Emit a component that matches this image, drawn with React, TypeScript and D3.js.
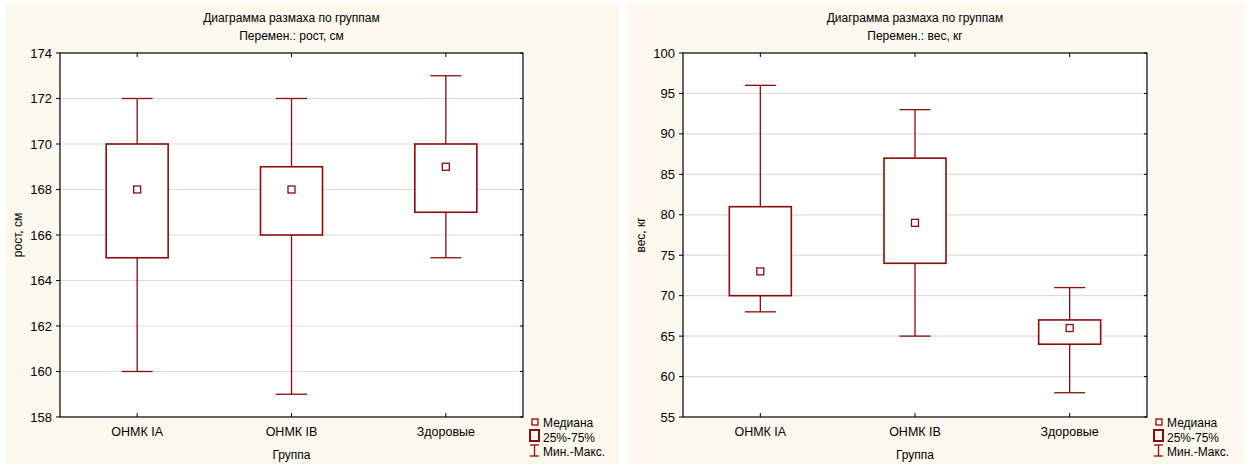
import React from 'react';
import * as d3 from 'd3';

// groups shared by both charts
const groups = ['ОНМК IA', 'ОНМК IB', 'Здоровые'];

// рост, см
const heightMin = [160, 159, 165];
const heightQ1 = [165, 166, 167];
const heightMedian = [168, 168, 169];
const heightQ3 = [170, 169, 170];
const heightMax = [172, 172, 173];
const heightTicks = [158, 160, 162, 164, 166, 168, 170, 172, 174];

// вес, кг
const weightMin = [68, 65, 58];
const weightQ1 = [70, 74, 64];
const weightMedian = [73, 79, 66];
const weightQ3 = [81, 87, 67];
const weightMax = [96, 93, 71];
const weightTicks = [55, 60, 65, 70, 75, 80, 85, 90, 95, 100];

const legendLabels = ['Медиана', '25%-75%', 'Мин.-Макс.'];

const RED = '#8b0a0a';
const FONT = '"Liberation Sans", Arial, sans-serif';

type PanelProps = {
  x0: number;
  width: number;
  plotLeft: number;
  plotRight: number;
  varLabel: string;
  yLabel: string;
  ticks: number[];
  min: number[];
  q1: number[];
  med: number[];
  q3: number[];
  max: number[];
};

const Panel = ({ x0, width, plotLeft, plotRight, varLabel, yLabel, ticks, min, q1, med, q3, max }: PanelProps) => {
  const top = 53;
  const bottom = 417;

  const x = d3.scaleBand().domain(groups).range([plotLeft, plotRight]).padding(0);
  const y = d3.scaleLinear().domain([ticks[0], ticks[ticks.length - 1]]).range([bottom, top]);
  const cx = (g: string) => (x(g) as number) + x.bandwidth() / 2;
  const mid = (plotLeft + plotRight) / 2;
  const boxW = 62;
  const capW = 31;
  const lx = plotRight + 5;

  return (
    <g fontFamily={FONT}>
      <rect x={x0} y={3} width={width} height={461} fill="#fdf8ee" />
      <rect x={plotLeft} y={top} width={plotRight - plotLeft} height={bottom - top} fill="#fff" />

      {/* titles */}
      <text x={mid} y={22} textAnchor="middle" fontSize={12}>Диаграмма размаха по группам</text>
      <text x={mid} y={40} textAnchor="middle" fontSize={12}>{`Перемен.: ${varLabel}`}</text>

      {/* grid + y ticks */}
      {ticks.map((t) => (
        <g key={t}>
          {t !== ticks[0] && t !== ticks[ticks.length - 1] && (
            <line x1={plotLeft} x2={plotRight} y1={y(t)} y2={y(t)} stroke="#dcdcdc" strokeWidth={1.2} />
          )}
          <line x1={plotLeft - 4} x2={plotLeft} y1={y(t)} y2={y(t)} stroke="#000" />
          <line x1={plotRight - 3} x2={plotRight} y1={y(t)} y2={y(t)} stroke="#000" />
          <text x={plotLeft - 8} y={y(t)} dy="0.35em" textAnchor="end" fontSize={13}>{t}</text>
        </g>
      ))}

      {/* x ticks */}
      {groups.map((g) => (
        <g key={g}>
          <line x1={cx(g)} x2={cx(g)} y1={top} y2={top + 4} stroke="#000" />
          <line x1={cx(g)} x2={cx(g)} y1={bottom} y2={bottom - 4} stroke="#000" />
          <text x={cx(g)} y={436} textAnchor="middle" fontSize={12.5}>{g}</text>
        </g>
      ))}

      {/* boxes */}
      {groups.map((g, i) => (
        <g key={g} stroke={RED} fill="none" strokeWidth={1.3}>
          <line x1={cx(g)} x2={cx(g)} y1={y(max[i])} y2={y(q3[i])} />
          <line x1={cx(g)} x2={cx(g)} y1={y(q1[i])} y2={y(min[i])} />
          <line x1={cx(g) - capW / 2} x2={cx(g) + capW / 2} y1={y(max[i])} y2={y(max[i])} />
          <line x1={cx(g) - capW / 2} x2={cx(g) + capW / 2} y1={y(min[i])} y2={y(min[i])} />
          <rect x={cx(g) - boxW / 2} y={y(q3[i])} width={boxW} height={y(q1[i]) - y(q3[i])} fill="#fff" strokeWidth={1.6} />
          <rect x={cx(g) - 3.5} y={y(med[i]) - 3.5} width={7} height={7} fill="#fff" />
        </g>
      ))}

      <rect x={plotLeft} y={top} width={plotRight - plotLeft} height={bottom - top} fill="none" stroke="#000" strokeWidth={1.2} />

      {/* axis titles */}
      <text x={mid} y={459} textAnchor="middle" fontSize={12}>Группа</text>
      <text transform={`translate(${x0 + 17},${(top + bottom) / 2}) rotate(-90)`} textAnchor="middle" fontSize={12}>{yLabel}</text>

      {/* legend */}
      <g stroke={RED} fill="none">
        <rect x={lx + 4} y={419} width={6} height={6} strokeWidth={1.3} />
        <rect x={lx + 2} y={430} width={9} height={11} strokeWidth={2} />
        <line x1={lx + 2} x2={lx + 11} y1={445} y2={445} strokeWidth={1.3} />
        <line x1={lx + 6.5} x2={lx + 6.5} y1={445} y2={456} strokeWidth={1.3} />
        <line x1={lx + 2} x2={lx + 11} y1={456} y2={456} strokeWidth={1.3} />
      </g>
      {legendLabels.map((l, i) => (
        <text key={l} x={lx + 15} y={427 + i * 14.5} fontSize={12}>{l}</text>
      ))}
    </g>
  );
};

export default function App() {
  return (
    <svg width={1251} height={466} style={{ position: 'absolute', left: 0, top: 0, background: '#fff' }}>
      <Panel x0={5} width={614} plotLeft={60} plotRight={523} varLabel="рост, см" yLabel="рост, см"
        ticks={heightTicks} min={heightMin} q1={heightQ1} med={heightMedian} q3={heightQ3} max={heightMax} />
      <Panel x0={628} width={616} plotLeft={683} plotRight={1147} varLabel="вес, кг" yLabel="вес, кг"
        ticks={weightTicks} min={weightMin} q1={weightQ1} med={weightMedian} q3={weightQ3} max={weightMax} />
    </svg>
  );
}
